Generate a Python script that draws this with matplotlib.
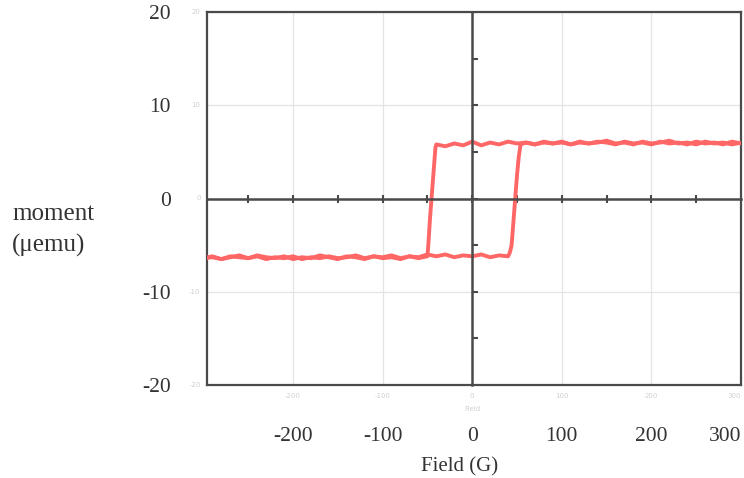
import numpy as np
import matplotlib
matplotlib.use("Agg")
import matplotlib.pyplot as plt
import matplotlib.transforms as mtransforms

# ---- data ----
field_up = [-300, -290, -280, -270, -260, -250, -240, -230, -220, -210, -200, -190, -180, -170,
            -160, -150, -140, -130, -120, -110, -100, -90, -80, -70, -60, -50, -40, -30, -20, -10,
            0, 10, 20, 30, 40, 42, 44, 46, 48, 50, 52, 54,
            60, 70, 80, 90, 100, 110, 120, 130, 140, 150, 160, 170, 180, 190, 200, 210, 220,
            230, 240, 250, 260, 270, 280, 290, 300]
moment_up = [-6.4, -6.2, -6.5, -6.3, -6.1, -6.4, -6.2, -6.5, -6.3, -6.4, -6.2, -6.5, -6.3, -6.4,
             -6.2, -6.4, -6.3, -6.1, -6.4, -6.2, -6.3, -6.1, -6.4, -6.2, -6.3, -6.0, -6.2, -6.0, -6.3, -6.1,
             -6.2, -6.0, -6.3, -6.1, -6.2, -5.8, -5.0, -2.5, 0.0, 2.5, 4.5, 5.8,
             6.0, 5.8, 6.1, 5.9, 6.0, 5.8, 6.1, 5.9, 6.0, 6.2, 5.9, 6.0, 5.8, 6.1, 5.9, 6.0, 6.2,
             5.9, 6.0, 5.8, 6.1, 5.9, 6.0, 5.8, 6.0]

field_down = [300, 290, 280, 270, 260, 250, 240, 230, 220, 210, 200, 190, 180, 170, 160, 150,
              140, 130, 120, 110, 100, 90, 80, 70, 60, 50, 40, 30, 20, 10, 0, -10, -20, -30, -40,
              -41, -43, -45, -47, -49, -50,
              -60, -70, -80, -90, -100, -110, -120, -130, -140, -150, -160, -170, -180, -190,
              -200, -210, -220, -230, -240, -250, -260, -270, -280, -290, -300]
moment_down = [5.9, 6.1, 5.8, 6.0, 5.9, 6.1, 5.8, 6.0, 5.9, 6.1, 5.8, 6.0, 5.9, 6.1, 5.8, 6.0,
               6.1, 5.9, 6.0, 5.8, 6.1, 5.9, 6.0, 5.8, 6.0, 5.9, 6.1, 5.8, 6.0, 5.7, 6.1, 5.7, 5.9, 5.6, 5.8,
               5.5, 3.0, 0.5, -2.0, -5.0, -6.2,
               -6.4, -6.2, -6.5, -6.3, -6.4, -6.2, -6.5, -6.3, -6.2, -6.5, -6.3, -6.1, -6.4, -6.3,
               -6.5, -6.2, -6.4, -6.3, -6.1, -6.4, -6.3, -6.2, -6.5, -6.3, -6.4]

x_ticks = [-200, -100, 0, 100, 200, 300]
y_ticks = [-20, -10, 0, 10, 20]
x_label = "Field (G)"
y_label = "moment\n(\u03bcemu)"

# ---- figure ----
plt.rcParams['font.family'] = ['Liberation Serif', 'DejaVu Serif']
fig = plt.figure(figsize=(7.44, 4.78), dpi=100)
ax = fig.add_axes([207 / 744, 1 - 385 / 478, (741 - 207) / 744, (385 - 12) / 478])
ax.set_xlim(-296, 300)
ax.set_ylim(-20, 20)

frame_col = '#4a4a4a'
text_col = '#333333'
for s in ax.spines.values():
    s.set_color(frame_col)
    s.set_linewidth(1.6)

ax.set_xticks(x_ticks)
ax.set_yticks(y_ticks)
ax.set_xticklabels([str(v) for v in x_ticks], fontsize=15.5, color=text_col)
ax.set_yticklabels([str(v) for v in y_ticks], fontsize=15.5, color=text_col)
ax.get_xticklabels()[-1].set_horizontalalignment('right')
ax.tick_params(axis='x', length=0, pad=30)
ax.tick_params(axis='y', length=0, pad=26)
ax.grid(True, color='#e4e4e4', linewidth=0.9)
ax.set_axisbelow(True)

# faint inner labels of the original plot
trans_x = mtransforms.blended_transform_factory(ax.transData, ax.transAxes)
for v in x_ticks:
    ax.text(v, -0.03, str(v), transform=trans_x, fontsize=5, color='#d0d0d0',
            ha='right' if v == x_ticks[-1] else 'center', va='center', family='DejaVu Sans')
trans_y = mtransforms.blended_transform_factory(ax.transAxes, ax.transData)
for v in y_ticks:
    ax.text(-0.012, v, str(v), transform=trans_y, fontsize=5, color='#d0d0d0',
            ha='right', va='center', family='DejaVu Sans')
ax.text(0, -0.065, "Field", transform=trans_x, fontsize=5, color='#d0d0d0',
        ha='center', va='center', family='DejaVu Sans')

# centre axes with ticks
ax2 = fig.add_axes(ax.get_position(), frameon=True)
ax2.patch.set_visible(False)
ax2.set_xlim(ax.get_xlim())
ax2.set_ylim(ax.get_ylim())
for side in ['top', 'right']:
    ax2.spines[side].set_visible(False)
ax2.spines['left'].set_position(('data', 0))
ax2.spines['bottom'].set_position(('data', 0))
for side in ['left', 'bottom']:
    ax2.spines[side].set_color(frame_col)
    ax2.spines[side].set_linewidth(1.8)
ax2.set_xticks(np.arange(-250, 300, 50))
ax2.set_yticks(np.arange(-15, 20, 5))
ax2.tick_params(axis='x', direction='inout', length=6, width=1.5, color=frame_col,
                labelbottom=False)
ax2.tick_params(axis='y', direction='in', length=4, width=1.5, color=frame_col,
                labelleft=False)

# hysteresis loop
red = '#ff6767'
ax2.plot(field_up, moment_up, color=red, linewidth=2.8, solid_joinstyle='round')
ax2.plot(field_down, moment_down, color=red, linewidth=2.8, solid_joinstyle='round')

fig.text(12 / 744, 1 - 230 / 478, y_label, fontsize=18, color=text_col,
         ha='left', va='center', linespacing=1.45)
fig.text(460 / 744, 1 - 467 / 478, x_label, fontsize=15, color=text_col,
         ha='center', va='center')

fig.savefig("out.png", dpi=100)
